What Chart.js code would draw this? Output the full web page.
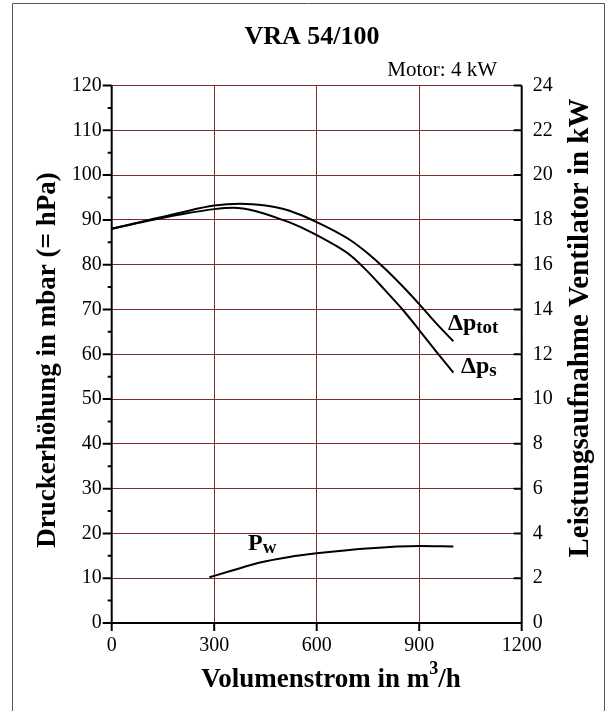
<!DOCTYPE html>
<html><head><meta charset="utf-8">
<script src="https://cdn.jsdelivr.net/npm/chart.js@4/dist/chart.umd.min.js"></script>
<style>html,body{margin:0;padding:0;background:#fff;}canvas{display:block;}</style>
</head><body>
<canvas id="c" width="610" height="711"></canvas>
<script>
const chartTitle = "VRA 54/100";
const motorNote = "Motor: 4 kW";
const xTitle = "Volumenstrom in m";
const yTitle = "Druckerhöhung in mbar (= hPa)";
const y2Title = "Leistungsaufnahme Ventilator in kW";

const flowTot = [0, 100, 200, 300, 376, 450, 500, 550, 600, 650, 700, 750, 800, 850, 900, 950, 1000];
const dpTot   = [88, 89.8, 91.6, 93.2, 93.6, 93.2, 92.5, 91.2, 89.5, 87.6, 85.4, 82.5, 79.1, 75.3, 71.2, 66.9, 62.9];
const flowS   = [0, 100, 200, 300, 355, 420, 500, 550, 600, 650, 700, 750, 800, 850, 900, 950, 1000];
const dpS     = [88, 89.7, 91.2, 92.4, 92.7, 92.0, 90.0, 88.5, 86.6, 84.5, 82.0, 78.4, 74.3, 70.1, 65.4, 60.6, 55.9];
const flowPw  = [286, 350, 434, 520, 600, 746, 902, 1000];
const pw      = [2.04, 2.33, 2.70, 2.95, 3.11, 3.33, 3.44, 3.42];

const xTicks = [0, 300, 600, 900, 1200];

const DARK = '#7d2b2b', LIGHT = '#b98c8c';
const SERIF = '"Liberation Serif", "Times New Roman", serif';

const pts = (xs, ys) => xs.map((x, i) => ({x, y: ys[i]}));

const deco = {
  id: 'deco',
  afterDraw(chart) {
    const c = chart.ctx, a = chart.chartArea;
    const xs = chart.scales.x, ys = chart.scales.y, y2 = chart.scales.y2;
    c.save();
    // frame
    c.strokeStyle = '#555'; c.lineWidth = 1;
    c.beginPath(); c.moveTo(12.5, 720); c.lineTo(12.5, 3.5); c.lineTo(604.5, 3.5); c.lineTo(604.5, 720); c.stroke();
    // axes
    c.strokeStyle = '#000'; c.lineWidth = 2;
    c.beginPath();
    c.moveTo(a.left, a.top); c.lineTo(a.left, a.bottom);
    c.moveTo(a.right, a.top); c.lineTo(a.right, a.bottom);
    c.moveTo(a.left - 9, a.bottom); c.lineTo(a.right, a.bottom);
    for (let v = 0; v <= 120; v += 5) {
      const y = ys.getPixelForValue(v);
      c.moveTo(a.left - (v % 10 === 0 ? 9 : 4), y); c.lineTo(a.left, y);
    }
    for (let v = 0; v <= 24; v += 2) {
      const y = y2.getPixelForValue(v);
      c.moveTo(a.right - 8, y); c.lineTo(a.right, y);
    }
    xTicks.forEach(v => { const x = xs.getPixelForValue(v); c.moveTo(x, a.bottom); c.lineTo(x, a.bottom + 8); });
    c.stroke();
    c.fillStyle = '#000';
    // title
    c.font = 'bold 26px ' + SERIF; c.textAlign = 'center'; c.textBaseline = 'alphabetic';
    c.fillText(chartTitle, 312, 44);
    c.font = '21px ' + SERIF; c.textAlign = 'right';
    c.fillText(motorNote, 497, 76);
    // x title with superscript
    c.font = 'bold 27px ' + SERIF;
    const w1 = c.measureText(xTitle).width;
    c.font = 'bold 18px ' + SERIF;
    const w2 = c.measureText('3').width;
    c.font = 'bold 27px ' + SERIF;
    const w3 = c.measureText('/h').width;
    let sx = 331 - (w1 + w2 + w3) / 2;
    c.textAlign = 'left';
    c.fillText(xTitle, sx, 687);
    c.font = 'bold 18px ' + SERIF; c.fillText('3', sx + w1, 674);
    c.font = 'bold 27px ' + SERIF; c.fillText('/h', sx + w1 + w2, 687);
    // y titles
    c.save(); c.translate(46, 360); c.rotate(-Math.PI / 2); c.textAlign = 'center';
    c.fillText(yTitle, 0, 9); c.restore();
    c.font = 'bold 29px ' + SERIF;
    c.save(); c.translate(579, 328); c.rotate(-Math.PI / 2); c.textAlign = 'center';
    c.fillText(y2Title, 0, 9); c.restore();
    // curve labels
    const lab = (main, sub, fx, fy, axis) => {
      const px = xs.getPixelForValue(fx), py = chart.scales[axis].getPixelForValue(fy);
      c.textAlign = 'left';
      c.font = 'bold 24px ' + SERIF; c.fillText(main, px, py);
      const mw = c.measureText(main).width;
      c.font = 'bold 19px ' + SERIF; c.fillText(sub, px + mw, py + 3);
    };
    lab('\u0394p', 'tot', 984, 65.4, 'y');
    lab('\u0394p', 's', 1022, 55.8, 'y');
    lab('P', 'w', 399, 3.26, 'y2');
    c.restore();
  }
};

const lineStyle = {borderColor: '#000', backgroundColor: '#000', borderWidth: 2, pointRadius: 0, cubicInterpolationMode: 'monotone', fill: false};

new Chart(document.getElementById('c'), {
  type: 'line',
  data: {
    datasets: [
      Object.assign({data: pts(flowTot, dpTot), yAxisID: 'y'}, lineStyle),
      Object.assign({data: pts(flowS, dpS), yAxisID: 'y'}, lineStyle),
      Object.assign({data: pts(flowPw, pw), yAxisID: 'y2'}, lineStyle)
    ]
  },
  options: {
    responsive: false, devicePixelRatio: 1, animation: false,
    layout: {padding: {top: 85.5, left: 0, right: 0, bottom: 0}},
    plugins: {legend: {display: false}, tooltip: {enabled: false}, colors: {enabled: false}},
    scales: {
      x: {type: 'linear', min: 0, max: 1200,
        afterBuildTicks: s => { s.ticks = xTicks.map(v => ({value: v})); },
        afterFit: s => { s.height = 88; },
        ticks: {font: {family: SERIF, size: 20}, color: '#000', padding: 11, maxRotation: 0, callback: v => String(v)},
        grid: {drawTicks: false, color: c => (c.tick && (c.tick.value === 0 || c.tick.value === 1200)) ? 'rgba(0,0,0,0)' : DARK, lineWidth: 1},
        border: {display: false}},
      y: {position: 'left', min: 0, max: 120,
        afterFit: s => { s.width = 111.7; },
        ticks: {stepSize: 5, font: {family: SERIF, size: 20}, color: '#000', padding: 10,
          callback: v => v % 10 === 0 ? String(v) : ''},
        grid: {drawTicks: false, color: c => (c.tick && c.tick.value === 0) ? 'rgba(0,0,0,0)' : (c.tick && c.tick.value % 10 === 0 ? DARK : LIGHT), lineWidth: 1},
        border: {display: false}},
      y2: {position: 'right', min: 0, max: 24,
        afterFit: s => { s.width = 88.3; },
        ticks: {stepSize: 2, font: {family: SERIF, size: 20}, color: '#000', padding: 11},
        grid: {display: false, drawTicks: false}, border: {display: false}}
    }
  },
  plugins: [deco]
});
</script>
</body></html>
